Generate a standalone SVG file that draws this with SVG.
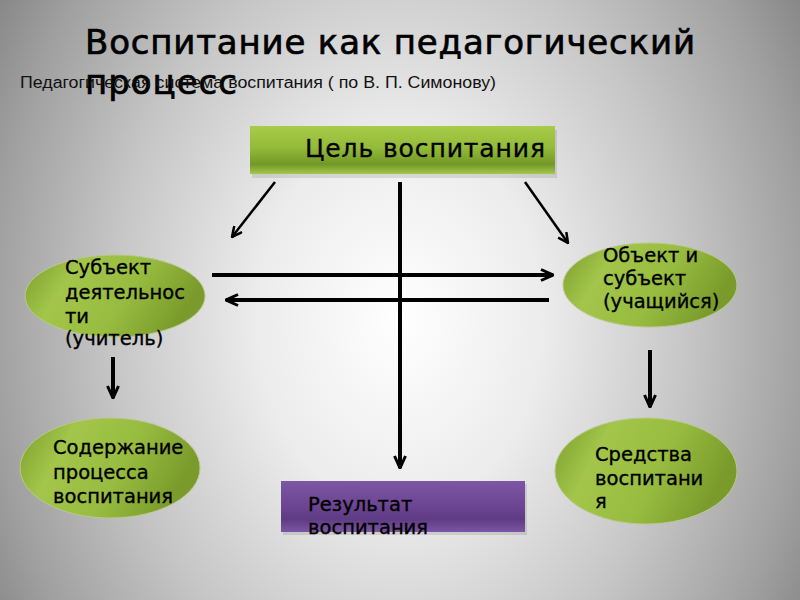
<svg xmlns="http://www.w3.org/2000/svg" width="800" height="600" viewBox="0 0 800 600">
<defs>
<radialGradient id="bg" cx="400" cy="320" r="480" gradientUnits="userSpaceOnUse" gradientTransform="translate(400 320) scale(1 1.3) translate(-400 -320)">
<stop offset="0" stop-color="#ffffff"/>
<stop offset="0.3" stop-color="#ececec"/>
<stop offset="0.6" stop-color="#c6c6c6"/>
<stop offset="0.85" stop-color="#a0a0a0"/>
<stop offset="1" stop-color="#848484"/>
</radialGradient>
<linearGradient id="green" x1="0" y1="0" x2="1" y2="0.3">
<stop offset="0" stop-color="#7c9d2c"/>
<stop offset="0.3" stop-color="#a2c54a"/>
<stop offset="0.65" stop-color="#98bc40"/>
<stop offset="1" stop-color="#7a9b2b"/>
</linearGradient>
<linearGradient id="greenbar" x1="0" y1="0" x2="0" y2="1">
<stop offset="0" stop-color="#a8cc4a"/>
<stop offset="0.45" stop-color="#93ba38"/>
<stop offset="0.8" stop-color="#739828"/>
<stop offset="1" stop-color="#a4c84a"/>
</linearGradient>
<linearGradient id="purple" x1="0" y1="0" x2="0" y2="1">
<stop offset="0" stop-color="#7d57a5"/>
<stop offset="0.5" stop-color="#6b4592"/>
<stop offset="0.75" stop-color="#5f3b83"/>
<stop offset="1" stop-color="#7c56a4"/>
</linearGradient>
<marker id="open" viewBox="0 0 12 12" refX="11" refY="6" markerWidth="12" markerHeight="12" markerUnits="userSpaceOnUse" orient="auto">
<path d="M1,1 L11,6 L1,11" fill="none" stroke="#000" stroke-width="2.5"/>
</marker>
<marker id="openL" viewBox="0 0 14 14" refX="13" refY="7" markerWidth="14" markerHeight="14" markerUnits="userSpaceOnUse" orient="auto">
<path d="M1,1.5 L13,7 L1,12.5" fill="none" stroke="#000" stroke-width="3"/>
</marker>
</defs>
<style>
.t{font-family:"DejaVu Sans",sans-serif;fill:#000;stroke:#000;stroke-width:0.35;}
.n{font-size:19.5px;}
.ell{fill:url(#green);stroke:#b8c98c;stroke-width:1;}
.thin{stroke:#000;stroke-width:2.5;fill:none;}
.thick{stroke:#000;stroke-width:4;fill:none;}
</style>
<rect x="0" y="0" width="800" height="600" fill="url(#bg)"/>

<g id="title">
<text class="t" x="85" y="54" font-size="34" textLength="610" style="stroke-width:0.7">Воспитание как педагогический</text>
<text class="t" x="85" y="94" font-size="34" textLength="152" style="stroke-width:0.7">процесс</text>
<text x="20" y="88" font-family="'Liberation Sans',sans-serif" font-size="16" fill="#111" textLength="476" lengthAdjust="spacingAndGlyphs">Педагогическая система воспитания ( по В. П. Симонову)</text>
</g>

<g id="connectors">
<line class="thin" x1="275" y1="182" x2="232" y2="237" marker-end="url(#open)"/>
<line class="thin" x1="525" y1="182" x2="568" y2="243" marker-end="url(#open)"/>
<line class="thick" x1="400" y1="182" x2="400" y2="468" marker-end="url(#openL)"/>
<line class="thick" x1="212" y1="275" x2="553" y2="275" marker-end="url(#openL)"/>
<line class="thick" x1="549" y1="300" x2="226" y2="300" marker-end="url(#openL)"/>
<line class="thick" x1="113" y1="357" x2="113" y2="398" marker-end="url(#openL)"/>
<line class="thick" x1="650" y1="350" x2="650" y2="407" marker-end="url(#openL)"/>
</g>

<g id="goal">
<rect x="252" y="130" width="305" height="48" fill="#000" opacity="0.1"/>
<rect x="250" y="126" width="305" height="48" fill="url(#greenbar)"/>
<text class="t" x="305" y="157" font-size="25" textLength="240">Цель воспитания</text>
</g>

<g id="subject">
<ellipse class="ell" cx="115" cy="296" rx="90" ry="41"/>
<text class="t n" x="65" y="274">Субъект</text>
<text class="t n" x="65" y="299">деятельнос</text>
<text class="t n" x="65" y="323">ти</text>
<text class="t n" x="65" y="345">(учитель)</text>
</g>

<g id="object">
<ellipse class="ell" cx="650" cy="285" rx="87" ry="42"/>
<text class="t n" x="603" y="262">Объект и</text>
<text class="t n" x="603" y="285">субъект</text>
<text class="t n" x="603" y="308">(учащийся)</text>
</g>

<g id="content">
<ellipse class="ell" cx="110" cy="468" rx="90" ry="50"/>
<text class="t n" x="53" y="454">Содержание</text>
<text class="t n" x="53" y="479">процесса</text>
<text class="t n" x="53" y="503">воспитания</text>
</g>

<g id="means">
<ellipse class="ell" cx="646" cy="471" rx="91" ry="53"/>
<text class="t n" x="595" y="461">Средства</text>
<text class="t n" x="595" y="485">воспитани</text>
<text class="t n" x="595" y="508">я</text>
</g>

<g id="result">
<rect x="283" y="484" width="244" height="51" fill="#000" opacity="0.1"/>
<rect x="281" y="481" width="244" height="51" fill="url(#purple)"/>
<text class="t n" x="308" y="511">Результат</text>
<text class="t n" x="308" y="534">воспитания</text>
</g>
</svg>
